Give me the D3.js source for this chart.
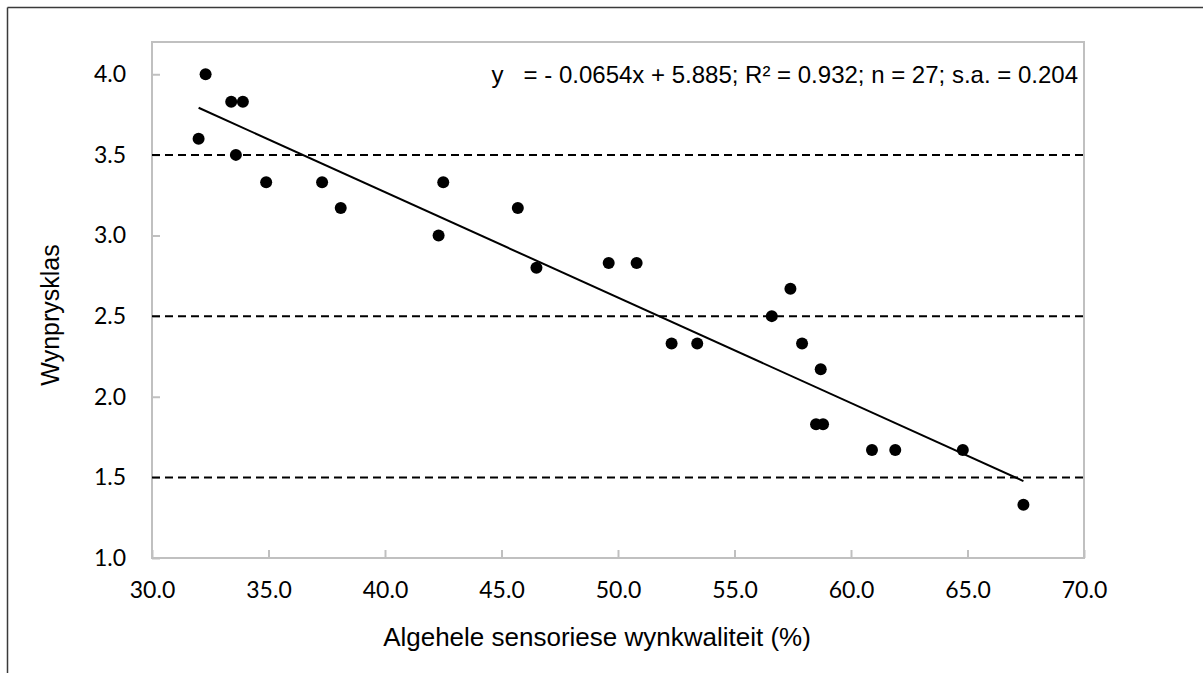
<!DOCTYPE html>
<html>
<head>
<meta charset="utf-8">
<script src="https://cdn.jsdelivr.net/npm/d3@7"></script>
<style>
  html, body { margin: 0; padding: 0; background: #fff; }
  svg { display: block; }
</style>
</head>
<body>
<svg id="chart" width="1203" height="673"></svg>
<script>
// ---- data ----
const xValues = [32.0, 32.3, 33.4, 33.9, 33.6, 34.9, 37.3, 38.1, 42.3, 42.5, 45.7, 46.5, 49.6, 50.8, 52.3, 53.4, 56.6, 57.4, 57.9, 58.7, 58.5, 58.8, 60.9, 61.9, 64.8, 67.4];
const yValues = [3.60, 4.00, 3.83, 3.83, 3.50, 3.33, 3.33, 3.17, 3.00, 3.33, 3.17, 2.80, 2.83, 2.83, 2.33, 2.33, 2.50, 2.67, 2.33, 2.17, 1.83, 1.83, 1.67, 1.67, 1.67, 1.33];
const xTicks = [30, 35, 40, 45, 50, 55, 60, 65, 70];
const yTicks = [1.0, 1.5, 2.0, 2.5, 3.0, 3.5, 4.0];
const classLines = [1.5, 2.5, 3.5];
const slope = -0.0654;
const intercept = 5.885;
const equationText = "y   = - 0.0654x + 5.885; R\u00B2 = 0.932; n = 27; s.a. = 0.204";
const xTitle = "Algehele sensoriese wynkwaliteit (%)";
const yTitle = "Wynprysklas";

// ---- layout ----
const svg = d3.select("#chart");
const pL = 152, pR = 1084, pT = 42, pB = 558;

const x = d3.scaleLinear().domain([30, 70]).range([pL, pR]);
const y = d3.scaleLinear().domain([1.0, 4.2]).range([pB, pT]);

// outer frame
svg.append("line").attr("x1", 7.5).attr("x2", 1203).attr("y1", 7.5).attr("y2", 7.5)
  .attr("stroke", "#3a3a3a").attr("stroke-width", 1.5);
svg.append("line").attr("x1", 7.5).attr("x2", 7.5).attr("y1", 7.5).attr("y2", 673)
  .attr("stroke", "#3a3a3a").attr("stroke-width", 1.5);

// plot border
svg.append("rect").attr("x", pL).attr("y", pT).attr("width", pR - pL).attr("height", pB - pT)
  .attr("fill", "none").attr("stroke", "#c0c0c0").attr("stroke-width", 2);

// axes
const xAxis = d3.axisBottom(x).tickValues(xTicks).tickFormat(d3.format(".1f")).tickSizeInner(-8).tickSizeOuter(0).tickPadding(24);
const yAxis = d3.axisLeft(y).tickValues(yTicks).tickFormat(d3.format(".1f")).tickSizeInner(-8).tickSizeOuter(0).tickPadding(26);

const gx = svg.append("g").attr("transform", `translate(0,${pB})`).call(xAxis);
const gy = svg.append("g").attr("transform", `translate(${pL},0)`).call(yAxis);
[gx, gy].forEach(g => {
  g.select(".domain").remove();
  g.selectAll(".tick line").attr("stroke", "#c0c0c0").attr("stroke-width", 2);
  g.selectAll(".tick text").attr("fill", "#000").style("font-family", "Lato, 'Open Sans', sans-serif").style("font-size", "23px");
});

// dashed class lines
svg.append("g").selectAll("line").data(classLines).join("line")
  .attr("x1", pL).attr("x2", pR)
  .attr("y1", d => y(d)).attr("y2", d => y(d))
  .attr("stroke", "#000").attr("stroke-width", 2).attr("stroke-dasharray", "8,5");

// regression line
const xMin = d3.min(xValues), xMax = d3.max(xValues);
svg.append("line")
  .attr("x1", x(xMin)).attr("y1", y(slope * xMin + intercept))
  .attr("x2", x(xMax)).attr("y2", y(slope * xMax + intercept))
  .attr("stroke", "#000").attr("stroke-width", 2);

// points
svg.append("g").selectAll("circle").data(xValues.map((v, i) => [v, yValues[i]])).join("circle")
  .attr("cx", d => x(d[0])).attr("cy", d => y(d[1])).attr("r", 6).attr("fill", "#000");

// equation
svg.append("text").attr("x", 1078).attr("y", y(4.0) + 9).attr("text-anchor", "end")
  .style("font-family", "'Liberation Sans', Arial, sans-serif").style("font-size", "24px")
  .attr("xml:space", "preserve").style("white-space", "pre")
  .text(equationText);

// axis titles
svg.append("text").attr("x", 597).attr("y", 646).attr("text-anchor", "middle")
  .style("font-family", "'Liberation Sans', Arial, sans-serif").style("font-size", "26px")
  .text(xTitle);
svg.append("text").attr("transform", `translate(59,${(pT + pB) / 2 + 15}) rotate(-90)`).attr("text-anchor", "middle")
  .style("font-family", "'Liberation Sans', Arial, sans-serif").style("font-size", "25px")
  .text(yTitle);
</script>
</body>
</html>
